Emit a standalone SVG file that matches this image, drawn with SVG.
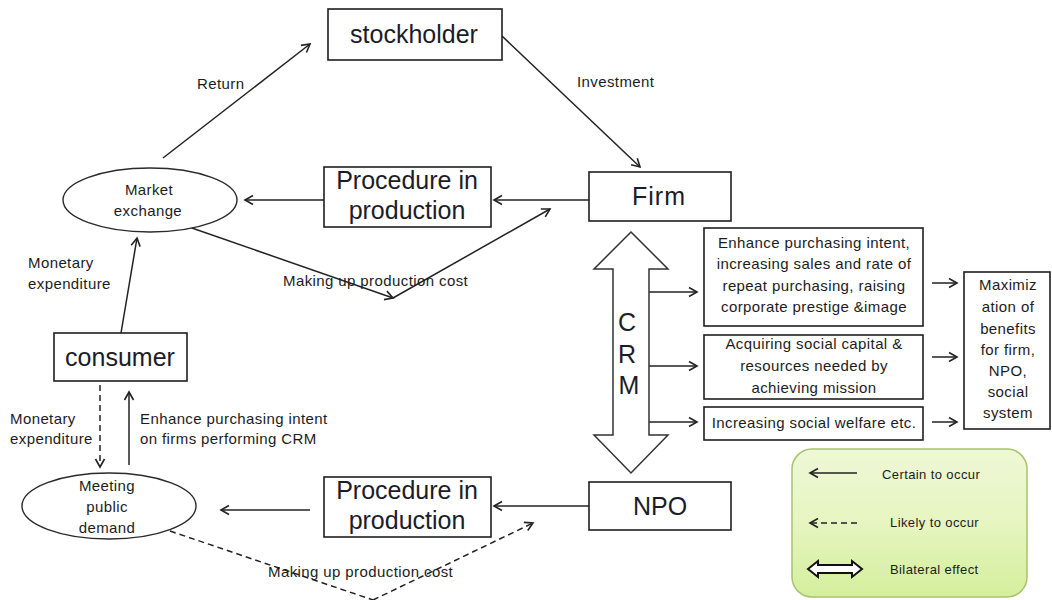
<svg xmlns="http://www.w3.org/2000/svg" width="1052" height="600" viewBox="0 0 1052 600">
  <defs>
    <style>
      .box { fill: #ffffff; stroke: #1e1e1e; stroke-width: 1.6; }
      .oval { fill: #ffffff; stroke: #2a2a2a; stroke-width: 1.4; }
      .big { font-family: "Liberation Sans", Arial, sans-serif; font-size: 25px; fill: #1c1c28; text-anchor: middle; }
      .small { font-family: "Liberation Sans", Arial, sans-serif; font-size: 15px; letter-spacing: 0.4px; fill: #1c1c1c; }
      .mid { font-family: "Liberation Sans", Arial, sans-serif; font-size: 15px; letter-spacing: 0.4px; fill: #1c1c1c; text-anchor: middle; }
      .key { font-family: "Liberation Sans", Arial, sans-serif; font-size: 13px; letter-spacing: 0.4px; fill: #1c1c1c; }
      .line { fill: none; stroke: #222222; stroke-width: 1.5; }
      .dash { fill: none; stroke: #222222; stroke-width: 1.5; stroke-dasharray: 6 4; }
      .arrow { marker-end: url(#head); }
    </style>
    <marker id="head" viewBox="-10 -6 12 12" refX="0" refY="0" markerWidth="12" markerHeight="12" markerUnits="userSpaceOnUse" orient="auto">
      <path d="M-8,-4.5 L0,0 L-8,4.5" fill="none" stroke="#222222" stroke-width="1.6"/>
    </marker>
    <linearGradient id="legendFill" x1="0" y1="0" x2="0" y2="1">
      <stop offset="0" stop-color="#eef8d6"/>
      <stop offset="0.5" stop-color="#e6f5c0"/>
      <stop offset="1" stop-color="#d4ee9c"/>
    </linearGradient>
  </defs>

  <!-- connectors -->
  <g id="connectors">
    <!-- market exchange to stockholder -->
    <line class="line arrow" x1="163" y1="158" x2="310" y2="44"/>
    <!-- stockholder to firm -->
    <line class="line arrow" x1="502" y1="36" x2="640" y2="167"/>
    <!-- firm to procedure (top) -->
    <line class="line arrow" x1="589" y1="200" x2="494" y2="200"/>
    <!-- procedure (top) to market exchange -->
    <line class="line arrow" x1="324" y1="200" x2="245" y2="200"/>
    <!-- making up production cost (top) -->
    <line class="line arrow" x1="189" y1="227" x2="393" y2="298"/>
    <line class="line arrow" x1="393" y1="298" x2="550" y2="209"/>
    <!-- consumer to market exchange -->
    <line class="line arrow" x1="121" y1="333" x2="137" y2="238"/>
    <!-- consumer / meeting public demand -->
    <line class="dash arrow" x1="100" y1="385" x2="100" y2="467"/>
    <line class="line arrow" x1="129" y1="465" x2="129" y2="392"/>
    <!-- NPO to procedure (bottom) -->
    <line class="line arrow" x1="589" y1="506" x2="494" y2="506"/>
    <!-- procedure (bottom) to meeting public demand -->
    <line class="line arrow" x1="310" y1="510" x2="221" y2="510"/>
    <!-- making up production cost (bottom, dashed) -->
    <polyline class="dash" points="170,531 373,600"/>
    <line class="dash arrow" x1="373" y1="600" x2="533" y2="523"/>
    <!-- CRM outcomes -->
    <line class="line arrow" x1="649" y1="292" x2="697" y2="292"/>
    <line class="line arrow" x1="649" y1="366" x2="697" y2="366"/>
    <line class="line arrow" x1="649" y1="422" x2="697" y2="422"/>
    <line class="line arrow" x1="932" y1="283" x2="957" y2="283"/>
    <line class="line arrow" x1="932" y1="357" x2="957" y2="357"/>
    <line class="line arrow" x1="932" y1="422" x2="957" y2="422"/>
  </g>

  <!-- connector labels -->
  <g id="labels">
    <text class="small" x="197" y="89">Return</text>
    <text class="small" x="577" y="87">Investment</text>
    <text class="small" x="283" y="286">Making up production cost</text>
    <text class="small" x="28" y="268">Monetary</text>
    <text class="small" x="28" y="289">expenditure</text>
    <text class="small" x="10" y="424">Monetary</text>
    <text class="small" x="10" y="444">expenditure</text>
    <text class="small" x="140" y="424">Enhance purchasing intent</text>
    <text class="small" x="140" y="444">on firms performing CRM</text>
    <text class="small" x="268" y="577">Making up production cost</text>
  </g>

  <g id="stockholder">
    <rect class="box" x="328" y="9" width="174" height="51"/>
    <text class="big" x="414" y="43">stockholder</text>
  </g>

  <g id="firm">
    <rect class="box" x="589" y="172" width="142" height="49"/>
    <text class="big" x="659" y="205" letter-spacing="1">Firm</text>
  </g>

  <g id="procedure-top">
    <rect class="box" x="324" y="167" width="167" height="60"/>
    <text class="big" x="407" y="189">Procedure in</text>
    <text class="big" x="407" y="219">production</text>
  </g>

  <g id="market-exchange">
    <ellipse class="oval" cx="150" cy="200" rx="87" ry="32"/>
    <text class="mid" x="149" y="195">Market</text>
    <text class="mid" x="148" y="216">exchange</text>
  </g>

  <g id="consumer">
    <rect class="box" x="54" y="333" width="133" height="48"/>
    <text class="big" x="120" y="366">consumer</text>
  </g>

  <g id="meeting-public-demand">
    <ellipse class="oval" cx="109" cy="506" rx="87" ry="33"/>
    <text class="mid" x="107" y="491">Meeting</text>
    <text class="mid" x="107" y="512">public</text>
    <text class="mid" x="107" y="533">demand</text>
  </g>

  <g id="procedure-bottom">
    <rect class="box" x="324" y="477" width="167" height="60"/>
    <text class="big" x="407" y="499">Procedure in</text>
    <text class="big" x="407" y="529">production</text>
  </g>

  <g id="npo">
    <rect class="box" x="589" y="482" width="142" height="48"/>
    <text class="big" x="660" y="515">NPO</text>
  </g>

  <g id="crm">
    <polygon points="631,232 668,269 649,269 649,435 668,435 631,473 594,435 613,435 613,269 594,269" fill="#ffffff" stroke="#333333" stroke-width="1.5"/>
    <text class="big" x="627" y="331" font-size="24">C</text>
    <text class="big" x="627" y="363" font-size="24">R</text>
    <text class="big" x="629" y="394" font-size="24">M</text>
  </g>

  <g id="outcome-purchasing">
    <rect class="box" x="704" y="228" width="219" height="98"/>
    <text class="mid" x="814" y="248">Enhance purchasing intent,</text>
    <text class="mid" x="814" y="269">increasing sales and rate of</text>
    <text class="mid" x="814" y="291">repeat purchasing, raising</text>
    <text class="mid" x="814" y="312">corporate prestige &amp;image</text>
  </g>

  <g id="outcome-social-capital">
    <rect class="box" x="704" y="335" width="219" height="64"/>
    <text class="mid" x="814" y="349">Acquiring social capital &amp;</text>
    <text class="mid" x="814" y="371">resources needed by</text>
    <text class="mid" x="814" y="393">achieving mission</text>
  </g>

  <g id="outcome-welfare">
    <rect class="box" x="704" y="407" width="219" height="33"/>
    <text class="mid" x="814" y="428">Increasing social welfare etc.</text>
  </g>

  <g id="maximization">
    <rect class="box" x="964" y="272" width="86" height="157"/>
    <text class="mid" x="1008" y="290" font-size="16">Maximiz</text>
    <text class="mid" x="1008" y="312" font-size="16">ation of</text>
    <text class="mid" x="1008" y="334" font-size="16">benefits</text>
    <text class="mid" x="1008" y="355" font-size="16">for firm,</text>
    <text class="mid" x="1008" y="376" font-size="16">NPO,</text>
    <text class="mid" x="1008" y="397" font-size="16">social</text>
    <text class="mid" x="1008" y="418" font-size="16">system</text>
  </g>

  <g id="legend">
    <rect x="792" y="449" width="235" height="148" rx="20" ry="20" fill="url(#legendFill)" stroke="#a6c46e" stroke-width="1.5"/>
    <line class="line arrow" x1="857" y1="473" x2="810" y2="473"/>
    <text class="key" x="882" y="479">Certain to occur</text>
    <line class="dash arrow" x1="857" y1="523" x2="810" y2="523"/>
    <text class="key" x="890" y="527">Likely to occur</text>
    <polygon points="808,569 818,561 818,565 852,565 852,561 862,569 852,577 852,573 818,573 818,577" fill="#ffffff" stroke="#111111" stroke-width="2"/>
    <text class="key" x="890" y="574">Bilateral effect</text>
  </g>
</svg>
